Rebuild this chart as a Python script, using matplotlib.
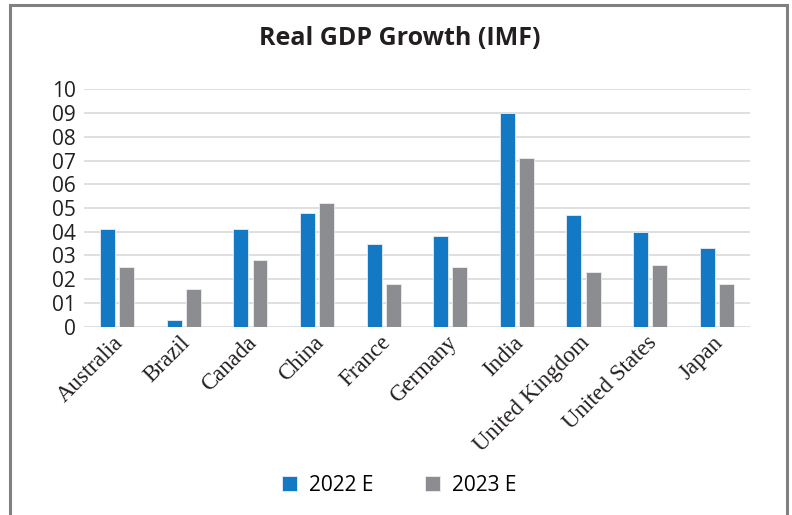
import numpy as np
import matplotlib.pyplot as plt
from matplotlib.patches import Rectangle

countries = ["Australia", "Brazil", "Canada", "China", "France", "Germany",
             "India", "United Kingdom", "United States", "Japan"]
growth_2022 = [4.1, 0.3, 4.1, 4.8, 3.5, 3.8, 9.0, 4.7, 4.0, 3.3]
growth_2023 = [2.5, 1.6, 2.8, 5.2, 1.8, 2.5, 7.1, 2.3, 2.6, 1.8]
y_ticks = [0, 1, 2, 3, 4, 5, 6, 7, 8, 9, 10]
y_labels = ["0", "01", "02", "03", "04", "05", "06", "07", "08", "09", "10"]

blue = "#1479c4"
grey = "#8c8d91"

fig = plt.figure(figsize=(7.92, 5.15), dpi=100)

# outer frame, bottom edge runs off the page
fig.patches.append(Rectangle((0.0125, -0.05), 0.981, 1.04, transform=fig.transFigure,
                             fill=False, edgecolor="#808080", linewidth=2.2))

ax = fig.add_axes([0.106, 0.3657, 0.841, 0.4609])
x = np.arange(len(countries))
w = 0.225
ax.bar(x - 0.143, growth_2022, w, color=blue, edgecolor="#e8eef5", linewidth=0.6,
       label="2022 E", zorder=3)
ax.bar(x + 0.143, growth_2023, w, color=grey, edgecolor="#eeeeee", linewidth=0.6,
       label="2023 E", zorder=3)

ax.set_xlim(-0.5, len(countries) - 0.5)
ax.set_ylim(0, 10)
ax.set_yticks(y_ticks)
ax.set_yticklabels(y_labels, fontsize=15, family="Open Sans", color="#231f20")
ax.yaxis.grid(True, color="#d9d9d9", linewidth=1.2, zorder=0)
ax.tick_params(axis="y", length=0, pad=6)
ax.tick_params(axis="x", length=0, pad=4)
ax.set_xticks(x - 0.06)
ax.set_xticklabels(countries, rotation=45, ha="right", va="top", rotation_mode="anchor",
                   fontsize=16.5, family="Liberation Serif", color="#231f20")
for s in ax.spines.values():
    s.set_visible(False)

fig.text(0.505, 0.925, "Real GDP Growth (IMF)", ha="center", va="center",
         fontsize=18, fontweight="bold", family="Open Sans", color="#231f20")

h, l = ax.get_legend_handles_labels()
fig.legend(h, l, loc="center", bbox_to_anchor=(0.504, 0.058), ncol=2, frameon=False,
           handlelength=0.72, handleheight=0.72, handletextpad=0.55, columnspacing=2.5,
           prop={"family": "Open Sans", "size": 15})

fig.savefig("out.png", dpi=100)
